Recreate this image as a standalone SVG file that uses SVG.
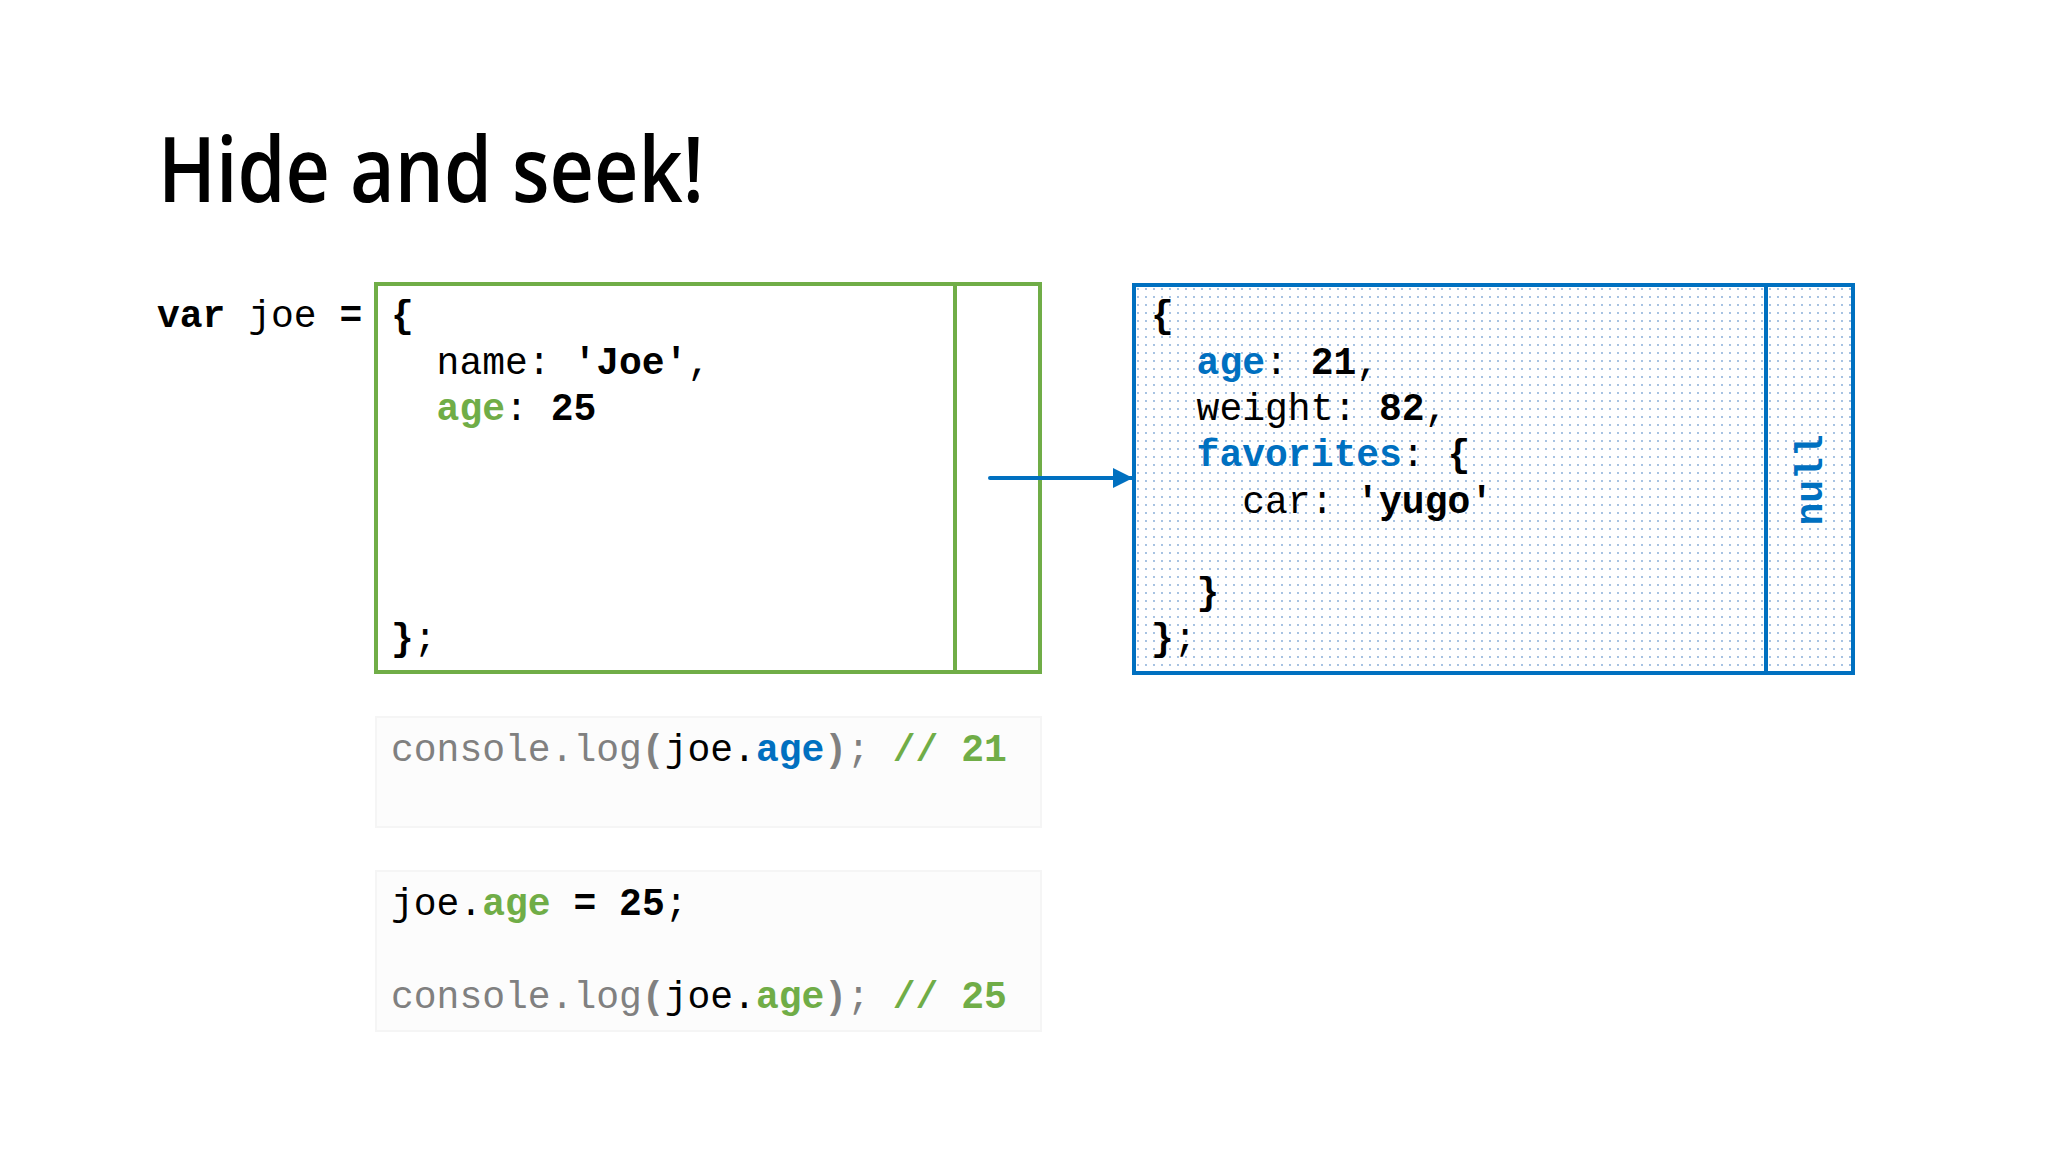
<svg xmlns="http://www.w3.org/2000/svg" width="2048" height="1152" viewBox="0 0 2048 1152">
<style>
.title{font-family:"Open Sans","Noto Sans",sans-serif;font-size:90px;font-weight:600;fill:#000}
.code{font-family:"Courier New","Liberation Mono",monospace;font-size:38px;fill:#000}
.b{font-weight:bold}
.g{fill:#70AD47}
.bl{fill:#0070C0}
.gr{fill:#808080}
.gbox{fill:#fff;stroke:#70AD47;stroke-width:4}
.bbox{fill:url(#dots);stroke:#0070C0;stroke-width:4}
.cbox{fill:#fcfcfc;stroke:#f5f5f5;stroke-width:2}
</style>
<defs>
<pattern id="dots" x="1134" y="285" width="8" height="8" patternUnits="userSpaceOnUse">
<rect width="8" height="8" fill="#fff"/>
<circle cx="4" cy="4" r="0.9" fill="#7ea6d4"/>
</pattern>
<marker id="arrow" markerWidth="20" markerHeight="20" refX="20" refY="10" orient="auto" markerUnits="userSpaceOnUse">
<path d="M0,0 L20,10 L0,20 Z" fill="#0070C0"/>
</marker>
</defs>
<rect width="2048" height="1152" fill="#fff"/>
<text class="title" x="158" y="202" textLength="546" lengthAdjust="spacingAndGlyphs">Hide and seek!</text>

<g id="decl">
<text class="code" x="157" y="327" xml:space="preserve"><tspan class="b">var</tspan> joe <tspan class="b">=</tspan></text>
</g>

<g id="joe-object">
<rect class="gbox" x="376" y="284" width="664" height="388"/>
<line x1="955" y1="284" x2="955" y2="672" stroke="#70AD47" stroke-width="4"/>
<text class="code" x="391" y="327" xml:space="preserve"><tspan class="b">{</tspan></text>
<text class="code" x="391" y="374" xml:space="preserve">  name: <tspan class="b">'Joe'</tspan>,</text>
<text class="code" x="391" y="420" xml:space="preserve">  <tspan class="b g">age</tspan>: <tspan class="b">25</tspan></text>
<text class="code" x="391" y="650" xml:space="preserve"><tspan class="b">}</tspan>;</text>
</g>

<g id="proto-object">
<rect class="bbox" x="1134" y="285" width="719" height="388"/>
<line x1="1766" y1="285" x2="1766" y2="673" stroke="#0070C0" stroke-width="4"/>
<text class="code" x="1151" y="327" xml:space="preserve"><tspan class="b">{</tspan></text>
<text class="code" x="1151" y="374" xml:space="preserve">  <tspan class="b bl">age</tspan>: <tspan class="b">21</tspan>,</text>
<text class="code" x="1151" y="420" xml:space="preserve">  weight: <tspan class="b">82</tspan>,</text>
<text class="code" x="1151" y="466" xml:space="preserve">  <tspan class="b bl">favorites</tspan>: <tspan class="b">{</tspan></text>
<text class="code" x="1151" y="513" xml:space="preserve">    car: <tspan class="b">'yugo'</tspan></text>
<text class="code" x="1151" y="604" xml:space="preserve">  <tspan class="b">}</tspan></text>
<text class="code" x="1151" y="650" xml:space="preserve"><tspan class="b">}</tspan>;</text>
<text class="code b bl" text-anchor="middle" transform="translate(1822,480) rotate(-90)">null</text>
</g>

<g id="connectors">
<line x1="990" y1="478" x2="1133" y2="478" stroke="#0070C0" stroke-width="4" stroke-linecap="round" marker-end="url(#arrow)"/>
</g>

<g id="log1">
<rect class="cbox" x="376" y="717" width="665" height="110"/>
<text class="code" x="391" y="761" xml:space="preserve"><tspan class="gr">console.log</tspan><tspan class="gr b">(</tspan>joe.<tspan class="b bl">age</tspan><tspan class="gr b">)</tspan><tspan class="gr">; </tspan><tspan class="b g">// 21</tspan></text>
</g>

<g id="log2">
<rect class="cbox" x="376" y="871" width="665" height="160"/>
<text class="code" x="391" y="915" xml:space="preserve">joe.<tspan class="b g">age</tspan> <tspan class="b">=</tspan> <tspan class="b">25</tspan>;</text>
<text class="code" x="391" y="1008" xml:space="preserve"><tspan class="gr">console.log</tspan><tspan class="gr b">(</tspan>joe.<tspan class="b g">age</tspan><tspan class="gr b">)</tspan><tspan class="gr">; </tspan><tspan class="b g">// 25</tspan></text>
</g>
</svg>
